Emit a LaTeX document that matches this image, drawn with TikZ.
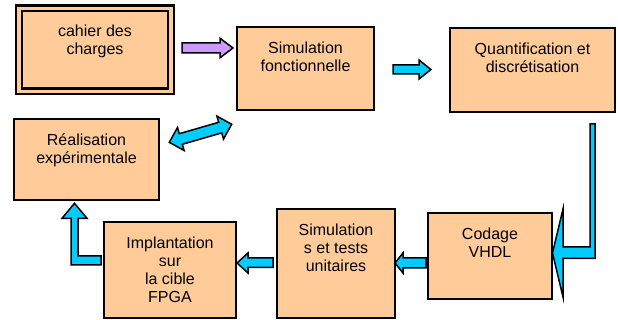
\documentclass[tikz,border=0pt]{standalone}
\usepackage{fontspec}
\setmainfont{Liberation Sans}
\definecolor{peach}{HTML}{FFCC99}
\definecolor{cyanA}{HTML}{00CCFF}
\definecolor{lilac}{HTML}{CC99FF}
\newcommand\mystrut{\rule{0pt}{12pt}}
\begin{document}
\begin{tikzpicture}[x=1pt,y=-1pt,
  box/.style={draw=black, line width=1.8pt, fill=peach, rectangle, inner sep=0pt, outer sep=0pt},
  txt/.style={font=\fontsize{16}{18}\selectfont, align=center, inner sep=0pt, outer sep=0pt, anchor=north},
  blk/.style={draw=black, line width=1.5pt, fill=cyanA, line join=miter},
  pblk/.style={blk, fill=lilac}]
\useasboundingbox (0,0) rectangle (618,320);

% boxes
\node[box, line width=2.2pt, double=peach, double distance=3.6pt,
      minimum width=152pt, minimum height=83pt] (b1) at (95,50) {};
\node[txt] (t1) at ([yshift=-16pt]b1.north) {\mystrut cahier des\\charges};

\node[box, minimum width=137pt, minimum height=83pt] (b2) at (305.5,68.5) {};
\node[txt] (t2) at ([yshift=-14.8pt]b2.north) {\mystrut Simulation\\fonctionnelle};

\node[box, minimum width=165pt, minimum height=84pt] (b3) at (532.5,70) {};
\node[txt] (t3) at ([yshift=-14.8pt]b3.north) {\mystrut Quantification et\\discrétisation};

\node[box, minimum width=145pt, minimum height=81pt] (b4) at (86.5,159.5) {};
\node[txt] (t4) at ([yshift=-14.8pt]b4.north) {\mystrut Réalisation\\expérimentale};

\node[box, minimum width=132pt, minimum height=96pt] (b5) at (170,270) {};
\node[txt] (t5) at ([yshift=-14.8pt]b5.north) {\mystrut Implantation\\sur\\la cible\\FPGA};

\node[box, minimum width=118pt, minimum height=109pt] (b6) at (336,263.5) {};
\node[txt] (t6) at ([yshift=-14.8pt]b6.north) {\mystrut Simulation\\s et tests\\unitaires};

\node[box, minimum width=124pt, minimum height=86pt] (b7) at (490,256) {};
\node[txt] (t7) at ([yshift=-14.8pt]b7.north) {\mystrut Codage\\VHDL};

% block arrows
\draw[pblk] (182,43) -- (220,43) -- (220,38.3) -- (233,48) -- (220,57.7) -- (220,53) -- (182,53) -- cycle;
\draw[blk] (393,65) -- (419,65) -- (419,60) -- (431,69.5) -- (419,79) -- (419,74) -- (393,74) -- cycle;
\draw[blk] (426,258) -- (403,258) -- (403,253) -- (395,263) -- (403,273) -- (403,268) -- (426,268) -- cycle;
\draw[blk] (273,258) -- (248,258) -- (248,253) -- (237,263) -- (248,273) -- (248,267.5) -- (273,267.5) -- cycle;
\draw[blk] (101,256) -- (78,256) -- (78,218.3) -- (87,218.3) -- (74.5,203.3) -- (62,218.3) -- (71,218.3) -- (71,265) -- (101,265) -- cycle;
\draw[blk] (590,124) -- (595,124) -- (595,258.3) -- (563,258.3) -- (563,297) -- (552.5,253) -- (563,209) -- (563,247) -- (590,247) -- cycle;
\draw[blk] (169.3,142.3) -- (184.1,150.5) -- (182.3,144.3) -- (221.7,132.9) -- (223.5,139.1) -- (231.7,124.3) -- (216.9,116.1) -- (218.7,122.3) -- (179.3,133.7) -- (177.5,127.5) -- cycle;
\end{tikzpicture}
\end{document}
